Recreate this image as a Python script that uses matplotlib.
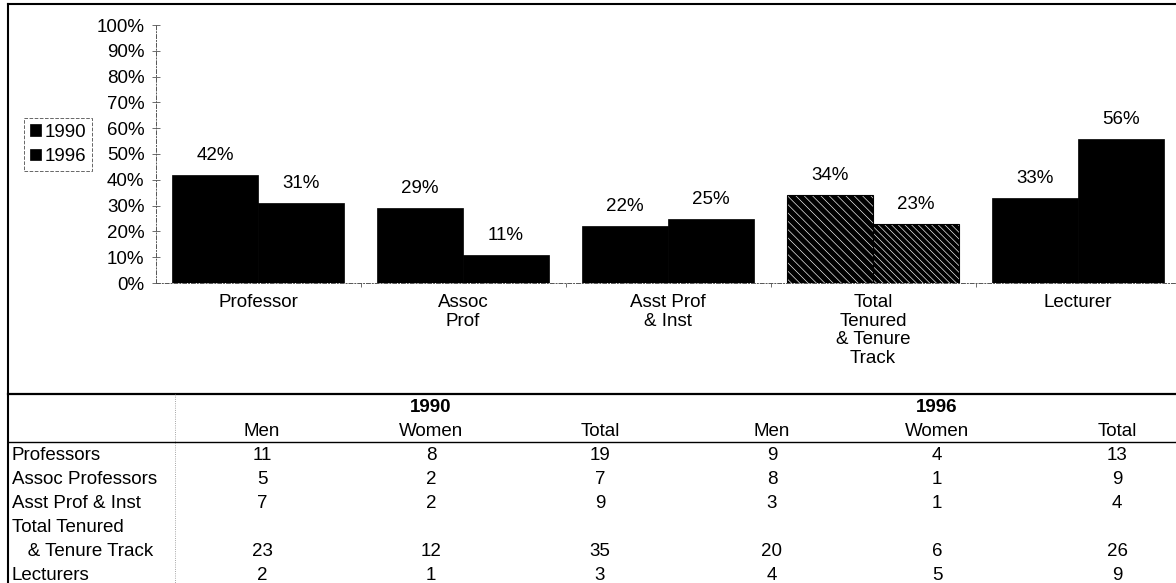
import matplotlib
matplotlib.use("Agg")
import matplotlib.pyplot as plt
from matplotlib.lines import Line2D
from matplotlib.ticker import FixedLocator

plt.rcParams['font.family'] = ['Liberation Sans', 'DejaVu Sans']
plt.rcParams['hatch.linewidth'] = 0.45

# chart data: share of women by rank (%)
categories = ['Professor', 'Assoc\nProf', 'Asst Prof\n& Inst', 'Total\nTenured\n& Tenure\nTrack', 'Lecturer']
pct_1990 = [42, 29, 22, 34, 33]
pct_1996 = [31, 11, 25, 23, 56]
hatched_group = 3  # "Total Tenured & Tenure Track" is drawn with stripes

# table data (headcounts)
row_labels = ['Professors', 'Assoc Professors', 'Asst Prof & Inst', 'Total Tenured', '   & Tenure Track', 'Lecturers']
value_rows = [0, 1, 2, 4, 5]  # which label line carries the numbers
men_1990 = [11, 5, 7, 23, 2]
women_1990 = [8, 2, 2, 12, 1]
total_1990 = [19, 7, 9, 35, 3]
men_1996 = [9, 8, 3, 20, 4]
women_1996 = [4, 1, 1, 6, 5]
total_1996 = [13, 9, 4, 26, 9]
col_headers = ['Men', 'Women', 'Total', 'Men', 'Women', 'Total']
year_headers = ['1990', '1996']

FS = 13.5
W, H = 1176, 583
fig = plt.figure(figsize=(W / 100, H / 100), dpi=100)


def fx(px):
    return px / W


def fy(py):
    return 1 - py / H


# ---- bar chart ----
ax = fig.add_axes([fx(155.5), fy(283), 1025 / W, 258 / H])
width = 0.42
x = list(range(len(categories)))
b90 = ax.bar([i - width / 2 for i in x], pct_1990, width, color='black', edgecolor='black', lw=0.5)
b96 = ax.bar([i + width / 2 for i in x], pct_1996, width, color='black', edgecolor='black', lw=0.5)

# striped bars for the total group: thin white stripes over black
for bars, hatch in ((b90, '\\\\\\\\'), (b96, '\\\\\\\\\\')):
    p = bars[hatched_group]
    p.set_edgecolor('white')
    p.set_hatch(hatch)
    ax.bar(p.get_x() + p.get_width() / 2, p.get_height(), p.get_width(),
           fill=False, edgecolor='black', lw=0.8)

for bars, vals in ((b90, pct_1990), (b96, pct_1996)):
    for p, v in zip(bars, vals):
        ax.annotate(f'{v}%', (p.get_x() + p.get_width() / 2, v),
                    xytext=(0, 14), textcoords='offset points',
                    ha='center', va='center', fontsize=FS)

ax.set_xlim(-0.5, len(categories) - 0.5)
ax.set_ylim(0, 100)
ax.set_yticks(range(0, 101, 10))
ax.set_yticklabels([f'{v}%' for v in range(0, 101, 10)], fontsize=FS)
ax.set_xticks(x)
ax.set_xticklabels(categories, fontsize=FS, va='top', linespacing=1.12)
ax.xaxis.set_minor_locator(FixedLocator([i + 0.5 for i in x[:-1]]))
ax.tick_params(axis='x', which='major', length=0, pad=8)
ax.tick_params(axis='x', which='minor', length=3, direction='out', color='#555555')
ax.tick_params(axis='y', direction='inout', length=6, width=0.6, color='#555555', pad=5)
for side in ('top', 'right'):
    ax.spines[side].set_visible(False)
for side in ('left', 'bottom'):
    ax.spines[side].set_linestyle((0, (4, 2, 1, 2)))
    ax.spines[side].set_linewidth(0.7)
    ax.spines[side].set_color('#555555')
ax.patch.set_alpha(0)

leg = fig.legend([b90, b96], year_headers, loc='upper left',
                 bbox_to_anchor=(fx(24), fy(118)), borderaxespad=0,
                 fontsize=FS, handlelength=0.6, handleheight=0.6,
                 handletextpad=0.2, borderpad=0.3, labelspacing=0.4,
                 fancybox=False, framealpha=1)
leg.get_frame().set_edgecolor('#666666')
leg.get_frame().set_linestyle('--')
leg.get_frame().set_linewidth(0.7)

# ---- frame and table rules ----
fig.add_artist(Line2D([fx(8), 1], [fy(4), fy(4)], color='black', lw=1.5))
fig.add_artist(Line2D([fx(8), fx(8)], [fy(4), 0], color='black', lw=1.5))
fig.add_artist(Line2D([fx(8), 1], [fy(394), fy(394)], color='black', lw=1.6))
fig.add_artist(Line2D([fx(8), 1], [fy(442), fy(442)], color='black', lw=1.0))
fig.add_artist(Line2D([fx(175), fx(175)], [fy(394), 0], color='#888888', lw=0.6, ls=':'))

# ---- table text ----
col_x = [262, 431, 600, 772, 937, 1117]
year_y, head_y = 407, 431
row_y = [455, 479, 503, 527, 551, 575]

fig.text(fx(col_x[1]), fy(year_y), year_headers[0], ha='center', va='center', fontsize=FS, weight='bold')
fig.text(fx(col_x[4]), fy(year_y), year_headers[1], ha='center', va='center', fontsize=FS, weight='bold')
for cx, h in zip(col_x, col_headers):
    fig.text(fx(cx), fy(head_y), h, ha='center', va='center', fontsize=FS)

for ry, lab in zip(row_y, row_labels):
    fig.text(fx(12), fy(ry), lab, ha='left', va='center', fontsize=FS)

columns = [men_1990, women_1990, total_1990, men_1996, women_1996, total_1996]
for k, r in enumerate(value_rows):
    for cx, col in zip(col_x, columns):
        fig.text(fx(cx), fy(row_y[r]), str(col[k]), ha='center', va='center', fontsize=FS)

fig.savefig('out.png', dpi=100)
